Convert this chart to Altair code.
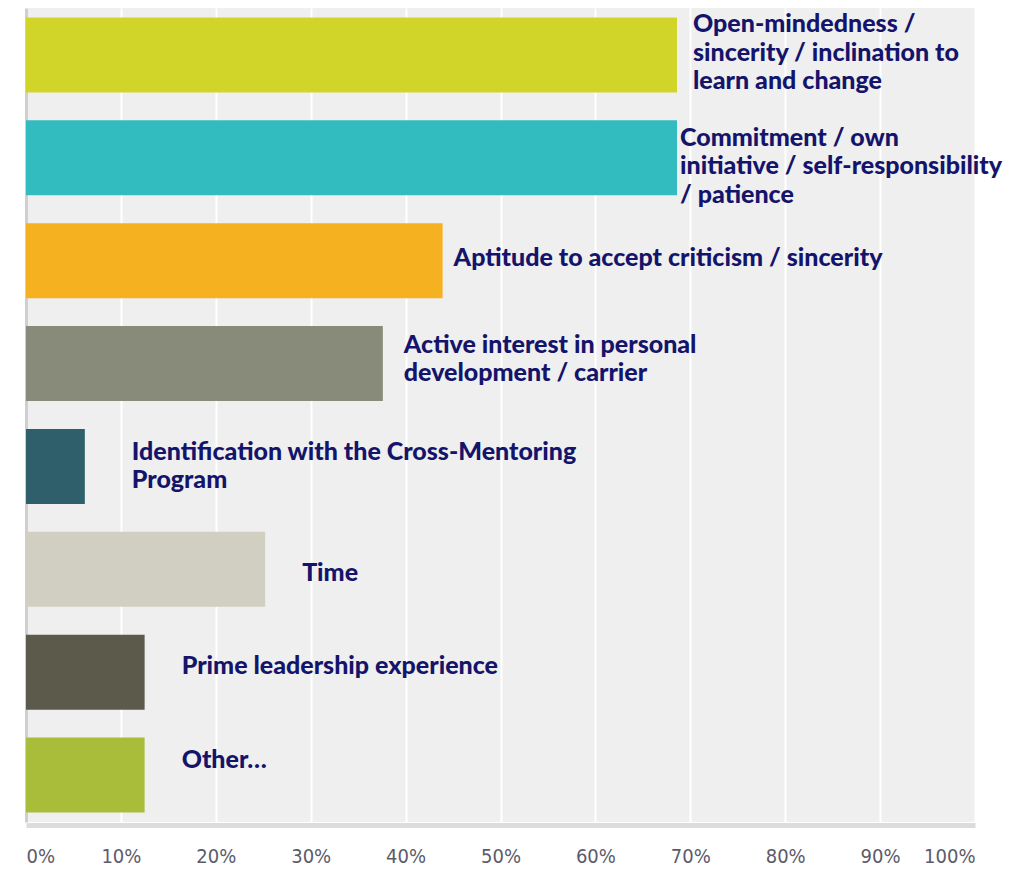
import altair as alt
import pandas as pd

labels = [
    "Open-mindedness /\nsincerity / inclination to\nlearn and change",
    "Commitment / own\ninitiative / self-responsibility\n/ patience",
    "Aptitude to accept criticism / sincerity",
    "Active interest in personal\ndevelopment / carrier",
    "Identification with the Cross-Mentoring\nProgram",
    "Time",
    "Prime leadership experience",
    "Other…",
]
values = [68.6, 68.6, 43.9, 37.6, 6.2, 25.2, 12.5, 12.5]
colors = ["#d1d52a", "#33bcbf", "#f5b120", "#888a7a", "#2f5f6b", "#d0cfc1", "#5c5a4b", "#a9bd3a"]
tick_values = [0, 10, 20, 30, 40, 50, 60, 70, 80, 90, 100]

# label placement tweaks (pixels)
label_dx = [16, 3, 11, 21, 47, 37, 37, 37]
label_dy = [-31, -20, -3, -19, -14.5, 3.5, -6, -15]

df = pd.DataFrame({"idx": list(range(len(labels))), "label": labels, "value": values})

TEXT_COLOR = "#14146b"
FONT = "Lato"
AXIS_FONT = "DejaVu Sans Condensed, Liberation Sans, sans-serif"

xscale = alt.Scale(domain=[0, 100], nice=False)

x_enc = alt.X(
    "value:Q",
    scale=xscale,
    axis=alt.Axis(
        values=tick_values,
        labelExpr="datum.value + '%'",
        labelFlush=True,
        grid=True,
        gridColor="#ffffff",
        gridWidth=2,
        gridOpacity=1,
        ticks=False,
        tickSize=0,
        domain=True,
        domainColor="#dcdcdc",
        domainWidth=5,
        offset=3,
        labelPadding=21,
        labelFont=AXIS_FONT,
        labelFontSize=20,
        labelColor="#5b5b6a",
        title=None,
    ),
)
y_enc = alt.Y(
    "label:N",
    sort=labels,
    scale=alt.Scale(paddingInner=0.271, paddingOuter=0.0925),
    axis=alt.Axis(
        labels=False, ticks=False, grid=False, domain=True,
        domainColor="#cfcfcf", domainWidth=3, title=None,
    ),
)

base = alt.Chart(df)

bars = base.mark_bar().encode(
    x=x_enc,
    y=y_enc,
    color=alt.Color("label:N", scale=alt.Scale(domain=labels, range=colors), legend=None),
)

layers = [bars]
for i in range(len(labels)):
    t = base.transform_filter(alt.datum.idx == i).mark_text(
        align="left",
        baseline="middle",
        lineBreak="\n",
        lineHeight=28.5,
        dx=label_dx[i],
        dy=label_dy[i],
        font=FONT,
        fontSize=25,
        fontWeight=900,
        color=TEXT_COLOR,
    ).encode(
        x=alt.X("value:Q", scale=xscale),
        y=alt.Y("label:N", sort=labels),
        text="label:N",
    )
    layers.append(t)

chart = alt.layer(*layers).properties(
    width=949,
    height=814,
    autosize=alt.AutoSizeParams(type="none"),
    padding={"left": 18, "top": 0, "right": 34, "bottom": 50},
    background="#ffffff",
).configure_view(
    fill="#efefef",
    strokeWidth=0,
)

chart.save("out.html", embed_options={"renderer": "svg", "actions": False})
